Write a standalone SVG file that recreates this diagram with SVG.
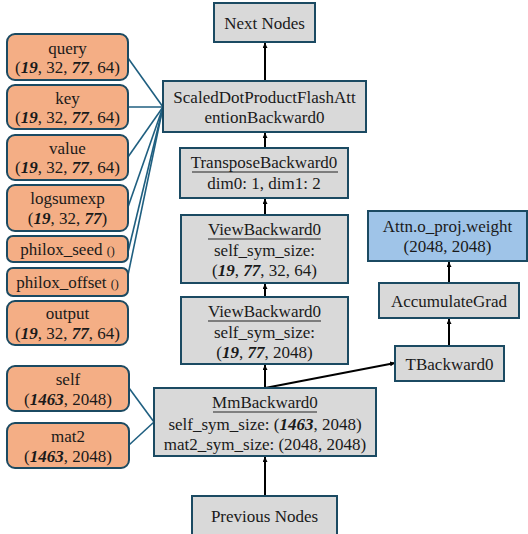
<svg xmlns="http://www.w3.org/2000/svg" width="528" height="534" viewBox="0 0 528 534">
<style>
text{font-family:'Liberation Serif','Times New Roman',Tinos,'Noto Serif','DejaVu Serif',FreeSerif,Times,serif;font-size:17px;fill:#1a1a1a;text-anchor:middle}
.bi{font-weight:bold;font-style:italic}
.sm{font-size:12px}
.in{fill:#f4ae85;stroke:#1b4a62;stroke-width:2}
.op{fill:#d9d9d9;stroke:#1b4a62;stroke-width:2}
.pw{fill:#9fc4e8;stroke:#1b4a62;stroke-width:2}
.ul{stroke:#222;stroke-width:1.2}
.ulg{stroke:#7f7f7f;stroke-width:2.2}
.e{stroke:#000;stroke-width:2;fill:none;marker-end:url(#ah)}
.b{stroke:#1f5f80;stroke-width:1.6;fill:none}
</style>
<defs>
<marker id="ah" viewBox="0 0 10 10" refX="10" refY="5" markerWidth="5" markerHeight="5" orient="auto" markerUnits="userSpaceOnUse">
<path d="M0,0 L10,5 L0,10 z" fill="#000"/>
</marker>
</defs>
<rect width="528" height="534" fill="#fff"/>
<g id="connectors">
<line class="b" x1="128" y1="58" x2="163" y2="107"/>
<line class="b" x1="128" y1="107" x2="163" y2="107"/>
<line class="b" x1="128" y1="157" x2="163" y2="107"/>
<line class="b" x1="128" y1="207" x2="163" y2="107"/>
<line class="b" x1="128" y1="252" x2="163" y2="107"/>
<line class="b" x1="128" y1="275" x2="163" y2="107"/>
<line class="b" x1="129" y1="388" x2="154" y2="422"/>
<line class="b" x1="129" y1="445" x2="154" y2="422"/>
<line class="e" x1="265" y1="81" x2="265" y2="43"/>
<line class="e" x1="265" y1="148" x2="265" y2="133"/>
<line class="e" x1="265" y1="215" x2="265" y2="199"/>
<line class="e" x1="265" y1="297" x2="265" y2="284"/>
<line class="e" x1="265" y1="388" x2="265" y2="365"/>
<line class="e" x1="265" y1="496" x2="265" y2="457"/>
<line class="e" x1="265" y1="388" x2="395" y2="363"/>
<line class="e" x1="449" y1="346" x2="449" y2="319"/>
<line class="e" x1="449" y1="283" x2="449" y2="262"/>
</g>
<g id="next">
<rect class="op" x="214" y="3" width="101" height="39"/>
<text x="264.5" y="29">Next Nodes</text>
</g>
<g id="sdpa">
<rect class="op" x="163" y="81" width="203" height="51"/>
<text x="264.5" y="103">ScaledDotProductFlashAtt</text>
<text x="264.5" y="123">entionBackward0</text>
</g>
<g id="query">
<rect class="in" x="7" y="34" width="121" height="46" rx="8"/>
<text x="67.5" y="54">query</text>
<text x="67.5" y="73">(<tspan class="bi">19</tspan>, 32, <tspan class="bi">77</tspan>, 64)</text>
</g>
<g id="key">
<rect class="in" x="7" y="85" width="121" height="44" rx="8"/>
<text x="67.5" y="104">key</text>
<text x="67.5" y="123">(<tspan class="bi">19</tspan>, 32, <tspan class="bi">77</tspan>, 64)</text>
</g>
<g id="value">
<rect class="in" x="7" y="135" width="121" height="45" rx="8"/>
<text x="67.5" y="154">value</text>
<text x="67.5" y="173">(<tspan class="bi">19</tspan>, 32, <tspan class="bi">77</tspan>, 64)</text>
</g>
<g id="logsumexp">
<rect class="in" x="7" y="185" width="121" height="46" rx="8"/>
<text x="67.5" y="204">logsumexp</text>
<text x="67.5" y="224">(<tspan class="bi">19</tspan>, 32, <tspan class="bi">77</tspan>)</text>
</g>
<g id="philox_seed">
<rect class="in" x="7" y="236" width="121" height="26" rx="6"/>
<text x="67.5" y="255">philox_seed <tspan class="sm">()</tspan></text>
</g>
<g id="philox_offset">
<rect class="in" x="7" y="268" width="121" height="28" rx="6"/>
<text x="67.5" y="288">philox_offset <tspan class="sm">()</tspan></text>
</g>
<g id="output">
<rect class="in" x="7" y="301" width="121" height="44" rx="8"/>
<text x="67.5" y="319">output</text>
<text x="67.5" y="339">(<tspan class="bi">19</tspan>, 32, <tspan class="bi">77</tspan>, 64)</text>
</g>
<g id="self">
<rect class="in" x="7" y="366" width="122" height="45" rx="8"/>
<text x="68" y="385">self</text>
<text x="68" y="405">(<tspan class="bi">1463</tspan>, 2048)</text>
</g>
<g id="mat2">
<rect class="in" x="7" y="423" width="122" height="45" rx="8"/>
<text x="68" y="442">mat2</text>
<text x="68" y="462">(<tspan class="bi">1463</tspan>, 2048)</text>
</g>
<g id="transpose">
<rect class="op" x="180" y="148" width="168" height="50"/>
<text x="264" y="168">TransposeBackward0</text>
<line class="ul" x1="192" y1="172" x2="338" y2="172"/>
<text x="264" y="189">dim0: 1, dim1: 2</text>
</g>
<g id="view1">
<rect class="op" x="181" y="215" width="167" height="68"/>
<text x="264.5" y="235">ViewBackward0</text>
<line class="ul" x1="208" y1="239" x2="321" y2="239"/>
<text x="264.5" y="256">self_sym_size:</text>
<text x="264.5" y="276">(<tspan class="bi">19</tspan>, <tspan class="bi">77</tspan>, 32, 64)</text>
</g>
<g id="view2">
<rect class="op" x="181" y="297" width="167" height="67"/>
<text x="264.5" y="317">ViewBackward0</text>
<line class="ul" x1="208" y1="321" x2="321" y2="321"/>
<text x="264.5" y="338">self_sym_size:</text>
<text x="264.5" y="358">(<tspan class="bi">19</tspan>, <tspan class="bi">77</tspan>, 2048)</text>
</g>
<g id="mm">
<rect class="op" x="154" y="388" width="222" height="68"/>
<text x="265" y="408">MmBackward0</text>
<line class="ulg" x1="213" y1="412" x2="317" y2="412"/>
<text x="265" y="430">self_sym_size: (<tspan class="bi">1463</tspan>, 2048)</text>
<text x="265" y="450">mat2_sym_size: (2048, 2048)</text>
</g>
<g id="prev">
<rect class="op" x="192" y="496" width="145" height="42"/>
<text x="264.5" y="522">Previous Nodes</text>
</g>
<g id="tback">
<rect class="op" x="395" y="346" width="109" height="35"/>
<text x="449.5" y="370">TBackward0</text>
</g>
<g id="accum">
<rect class="op" x="379" y="283" width="140" height="35"/>
<text x="449" y="307">AccumulateGrad</text>
</g>
<g id="weight">
<rect class="pw" x="368" y="211" width="159" height="50"/>
<text x="447.5" y="232">Attn.o_proj.weight</text>
<text x="447.5" y="252">(2048, 2048)</text>
</g>
</svg>
